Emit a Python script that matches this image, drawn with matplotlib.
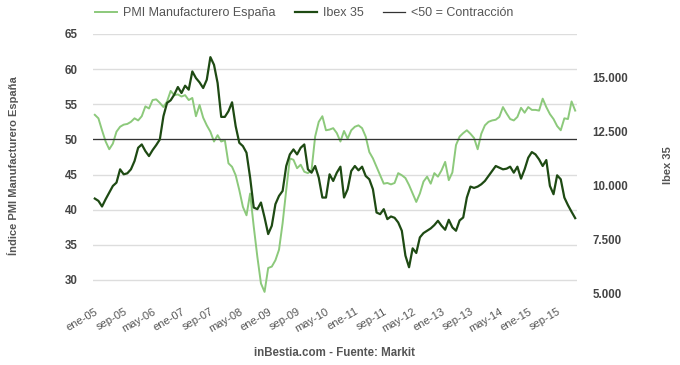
import matplotlib
matplotlib.use("Agg")
import matplotlib.pyplot as plt
import numpy as np
from matplotlib.ticker import FuncFormatter

# monthly data, ene-05 .. feb-16
months_es = ["ene", "feb", "mar", "abr", "may", "jun", "jul", "ago", "sep", "oct", "nov", "dic"]
start_year = 2005

pmi = [
    53.5, 53.0, 51.3, 49.7, 48.6, 49.4, 51.1, 51.8, 52.1, 52.2, 52.5, 53.0,
    52.7, 53.3, 54.7, 54.4, 55.6, 55.7, 55.2, 54.6, 55.4, 56.9, 56.3, 56.4,
    56.1, 56.3, 55.6, 55.9, 53.3, 54.9, 53.1, 52.0, 51.1, 49.7, 50.6, 49.7,
    49.9, 46.6, 46.1, 44.9, 42.8, 40.4, 39.2, 42.3, 37.6, 33.3, 29.5, 28.3,
    31.7, 31.9, 32.8, 34.3, 38.1, 42.8, 47.3, 47.1, 45.9, 46.4, 45.4, 45.2,
    45.6, 50.4, 52.5, 53.3, 51.3, 51.4, 51.6, 50.9, 49.7, 51.2, 50.1, 51.3,
    51.8, 52.0, 51.6, 50.4, 48.2, 47.3, 46.1, 44.9, 43.7, 43.8, 43.6, 43.8,
    45.2, 44.9, 44.5, 43.5, 42.3, 41.1, 42.3, 44.0, 44.7, 43.7, 45.2, 44.7,
    45.6, 46.8, 44.2, 45.3, 49.2, 50.4, 50.9, 51.3, 50.8, 50.2, 48.6, 50.8,
    52.0, 52.5, 52.7, 52.8, 53.2, 54.6, 53.7, 52.9, 52.7, 53.2, 54.5, 53.8,
    54.6, 54.2, 54.2, 54.1, 55.8, 54.6, 53.6, 52.9, 51.9, 51.3, 53.0, 52.9,
    55.4, 54.1,
]

ibex = [
    9405, 9298, 9038, 9375, 9681, 9988, 10141, 10754, 10524, 10570, 10754, 11137,
    11749, 11903, 11596, 11366, 11642, 11872, 12132, 13205, 13818, 13940, 14201, 14553,
    14277, 14614, 14430, 15273, 14967, 14767, 14507, 14890, 15932, 15579, 14737, 13174,
    13174, 13435, 13848, 12745, 11979, 11826, 11520, 10371, 8992, 8915, 9222, 8532,
    7766, 8149, 9145, 9528, 9758, 10907, 11443, 11673, 11443, 11749, 11903, 10754,
    10600, 10907, 10371, 9451, 9451, 10524, 10217, 10600, 10876, 9451, 9834, 10677,
    10907, 10708, 10876, 10447, 10294, 9834, 8762, 8685, 8915, 8456, 8578, 8517,
    8302, 7919, 6770, 6234, 7107, 6893, 7613, 7812, 7919, 8027, 8180, 8379,
    8149, 7965, 8425, 8073, 7919, 8394, 8532, 9451, 9957, 9896, 9957, 10064,
    10217, 10447, 10677, 10907, 10830, 10754, 10784, 10876, 10600, 10876, 10325, 10754,
    11290, 11550, 11443, 11213, 10907, 11182, 9988, 9605, 10478, 10294, 9451, 9099,
    8793, 8501,
]

threshold = 50

pmi_color = "#8cc97b"
ibex_color = "#1e4a13"
text_color = "#555555"
tick_color = "#444444"

plt.rcParams["font.family"] = ["Liberation Sans", "DejaVu Sans"]

n = len(pmi)
x = np.arange(n)
tick_pos = np.arange(0, n - 4, 8)
tick_labels = [f"{months_es[i % 12]}-{(start_year + i // 12) % 100:02d}" for i in tick_pos]

fig = plt.figure(figsize=(6.8, 3.65), dpi=100)
ax = fig.add_axes([93 / 680, 71 / 365, 484 / 680, 260 / 365])
ax2 = ax.twinx()

l1, = ax.plot(x, pmi, color=pmi_color, lw=1.4, label="PMI Manufacturero España", zorder=3)
l2, = ax2.plot(x, ibex, color=ibex_color, lw=1.6, label="Ibex 35", zorder=3)
l3 = ax.axhline(threshold, color="#333333", lw=0.9, label="<50 = Contracción", zorder=4)

ax.set_xlim(-0.5, n - 0.5)
ax.set_ylim(28, 65)
ax.set_yticks(np.arange(30, 66, 5))
ax2.set_ylim(5000, 17000)
ax2.set_yticks(np.arange(5000, 15001, 2500))
ax2.yaxis.set_major_formatter(FuncFormatter(lambda v, p: f"{int(v):,}".replace(",", ".")))

ax.grid(axis="y", color="#dddddd", lw=1)
ax.set_axisbelow(True)
for a in (ax, ax2):
    for s in a.spines.values():
        s.set_visible(False)
ax.tick_params(axis="y", length=0, pad=11, labelsize=8.3, labelcolor=tick_color)
ax2.tick_params(axis="y", length=0, pad=11, labelsize=8.3, labelcolor=tick_color)
for lab in ax.get_yticklabels() + ax2.get_yticklabels():
    lab.set_fontweight("bold")

ax.set_xticks(tick_pos)
ax.set_xticklabels(tick_labels, rotation=30, ha="right", rotation_mode="anchor",
                   fontsize=8, color=text_color)
ax.tick_params(axis="x", length=0, pad=9)

fig.text(13 / 680, 1 - 166 / 365, "Índice PMI Manufacturero España", rotation=90,
         ha="center", va="center", fontsize=8, fontweight="bold", color=text_color)
fig.text(668 / 680, 1 - 165 / 365, "Ibex 35", rotation=90,
         ha="center", va="center", fontsize=8, fontweight="bold", color=text_color)
fig.text(335 / 680, 1 - 353 / 365, "inBestia.com - Fuente: Markit",
         ha="center", va="center", fontsize=8.3, fontweight="bold", color=text_color)

leg = fig.legend(handles=[l1, l2, l3], loc="center left", bbox_to_anchor=(95 / 680, 1 - 13 / 365),
                 ncol=3, frameon=False, borderpad=0, borderaxespad=0, handlelength=1.76,
                 handletextpad=0.48, columnspacing=1.55, prop={"size": 9})
for t in leg.get_texts():
    t.set_color(text_color)

fig.savefig("out.png", dpi=100)
